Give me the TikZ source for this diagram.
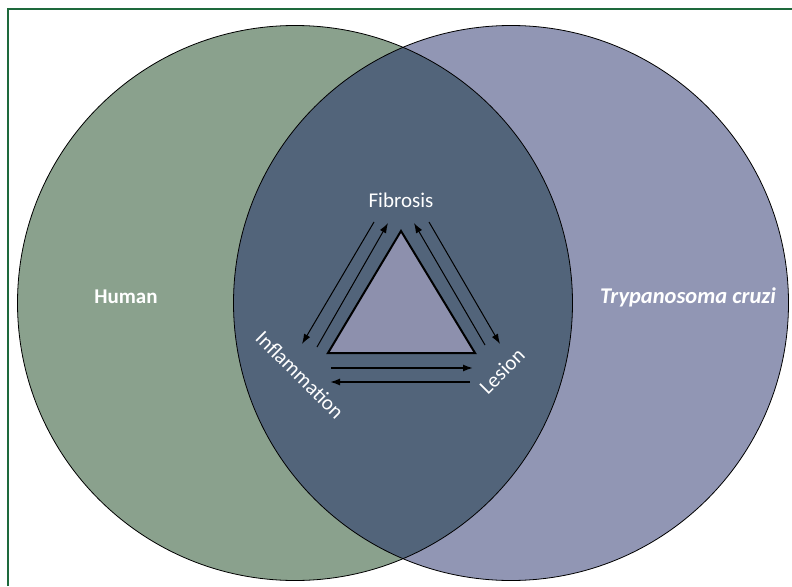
\documentclass[tikz,border=0pt]{standalone}
\usepackage{fontspec}
\setmainfont{Carlito}
\usetikzlibrary{arrows.meta}

\definecolor{humangreen}{RGB}{138,161,141}
\definecolor{cruzipurple}{RGB}{145,150,180}
\definecolor{overlapblue}{RGB}{82,100,122}
\definecolor{triangleviolet}{RGB}{141,144,173}
\definecolor{framegreen}{RGB}{30,105,60}

\tikzset{
  cyclearrow/.style={-{Latex[length=10pt,width=7pt]},line width=1pt},
  labeltext/.style={text=white,inner sep=0pt,font=\fontsize{21}{25}\selectfont},
}

\begin{document}
\begin{tikzpicture}[x=1pt,y=-1pt]

\useasboundingbox (0,0) rectangle (792,586);
\fill[white] (0,0) rectangle (792,586);

\draw[framegreen,line width=2pt]
(8,586)
--
(8,9)
--
(792,9);

\coordinate (humancentre) at (295,303);
\coordinate (cruzicentre) at (511,303);

\fill[humangreen] (humancentre) circle (277.5pt);
\fill[cruzipurple] (cruzicentre) circle (277.5pt);
\begin{scope}
\clip (humancentre) circle (277.5pt);
\fill[overlapblue] (cruzicentre) circle (277.5pt);
\end{scope}
\draw[line width=0.8pt] (humancentre) circle (277.5pt);
\draw[line width=0.8pt] (cruzicentre) circle (277.5pt);

\coordinate (tritop) at (401,231);
\coordinate (trileft) at (328,353);
\coordinate (triright) at (475,353);
\draw[fill=triangleviolet,line width=2pt]
(tritop) -- (trileft) -- (triright) -- cycle;

\node[labeltext,anchor=base] (fibrosis) at (401,207)
{Fibrosis};

\node[labeltext,rotate=-45] (inflammation) at (300,375)
{Inflammation};

\node[labeltext,rotate=45] (lesion) at (502,371)
{Lesion};

\node[labeltext,anchor=base,font=\fontsize{21}{25}\selectfont\bfseries] (human) at (126,303)
{Human};

\node[labeltext,anchor=base,font=\fontsize{22.5}{26}\selectfont\bfseries\itshape] (cruzi) at (688,303)
{Trypanosoma cruzi};

\coordinate (fibinflstart) at (374,222);
\coordinate (fibinflend) at (302,344);
\draw[cyclearrow] (fibinflstart) -- (fibinflend);

\coordinate (inflfibstart) at (317,347);
\coordinate (inflfibend) at (388,223);
\draw[cyclearrow] (inflfibstart) -- (inflfibend);

\coordinate (lesfibstart) at (485,345);
\coordinate (lesfibend) at (414,223);
\draw[cyclearrow] (lesfibstart) -- (lesfibend);

\coordinate (fiblesstart) at (429,222);
\coordinate (fiblesend) at (500,344);
\draw[cyclearrow] (fiblesstart) -- (fiblesend);

\coordinate (infllesstart) at (331,368);
\coordinate (infllesend) at (473,368);
\draw[cyclearrow,line width=1.5pt] (infllesstart) -- (infllesend);

\coordinate (lesinflstart) at (470,382);
\coordinate (lesinflend) at (330,382);
\draw[cyclearrow,line width=1.5pt] (lesinflstart) -- (lesinflend);

\end{tikzpicture}
\end{document}
